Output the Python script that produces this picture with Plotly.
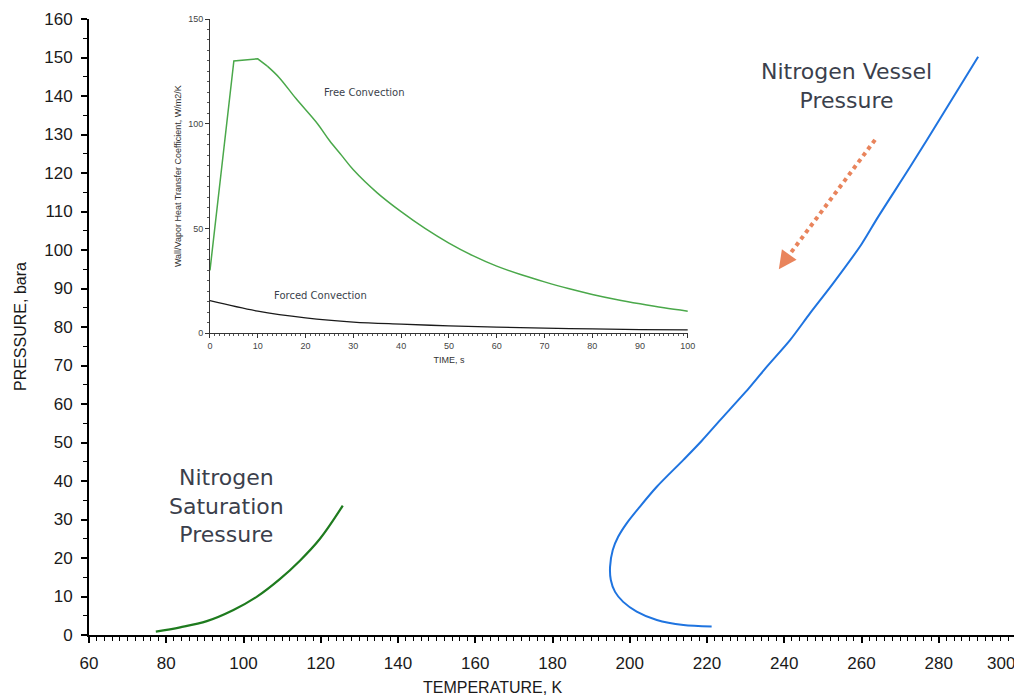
import plotly.graph_objects as go

# ---- main chart data ----
sat_T = [77.3, 83.6, 90.5, 97.4, 103.4, 109.4, 114.6, 119.8, 125.7]
sat_P = [0.9, 2.0, 3.6, 6.5, 9.9, 14.5, 19.3, 25.0, 33.6]

vessel_T = [290.2, 281.2, 272.6, 264.3, 260.0, 252.7, 246.7, 241.5,
            235.5, 231.2, 223.4, 218.6, 213.9, 207.0, 202.6, 199.2, 197.0, 195.6, 194.9,
            195.1, 196.2, 198.3, 201.8, 207.0, 213.9, 221.2]
vessel_P = [150.2, 135.5, 121.6, 108.6, 101.5, 91.4, 83.6, 76.6,
            69.7, 64.5, 55.8, 50.4, 45.5, 38.5, 33.3, 29.0, 25.5, 22.1, 17.7,
            14.3, 11.2, 8.6, 6.1, 3.9, 2.6, 2.2]

x_ticks = [60, 80, 100, 120, 140, 160, 180, 200, 220, 240, 260, 280, 300]
x_labels = ["60", "80", "100", "120", "140", "160", "180", "200", "220", "240", "260", "280", ""]
last_x_label = "300"
y_ticks = [0, 10, 20, 30, 40, 50, 60, 70, 80, 90, 100, 110, 120, 130, 140, 150, 160]

# ---- inset data ----
rise_t = [0, 5, 10, 12]
rise_h = [30, 130, 131, 127.5]
decay_t = [12, 14.5, 18, 22.5, 25, 27.5, 30, 35, 40, 45, 50, 55, 60, 65, 70, 75, 80, 85, 90, 95, 100]
decay_h = [127.5, 122, 112, 100, 92, 85, 78, 67, 58, 50, 43, 37, 32, 28, 24.5, 21.3, 18.5, 16.1, 14.0, 12.1, 10.5]
forced_t = [0, 10, 20, 30, 40, 50, 60, 70, 80, 90, 100]
forced_h = [15.5, 10.5, 7.3, 5.3, 4.3, 3.5, 2.9, 2.4, 2.0, 1.7, 1.6]
inset_x_ticks = [0, 10, 20, 30, 40, 50, 60, 70, 80, 90, 100]
inset_y_ticks = [0, 50, 100, 150]

fig = go.Figure()
fig.add_trace(go.Scatter(x=sat_T, y=sat_P, mode="lines", line=dict(color="#1e7b1e", width=2.2, shape="spline"),
                         showlegend=False, hoverinfo="skip"))
fig.add_trace(go.Scatter(x=vessel_T, y=vessel_P, mode="lines", line=dict(color="#1f74e0", width=2, shape="spline", smoothing=0.8),
                         showlegend=False, hoverinfo="skip"))
fig.add_trace(go.Scatter(x=rise_t, y=rise_h, mode="lines", line=dict(color="#4aa84a", width=1.5),
                         xaxis="x2", yaxis="y2", showlegend=False, hoverinfo="skip"))
fig.add_trace(go.Scatter(x=decay_t, y=decay_h, mode="lines", line=dict(color="#4aa84a", width=1.5, shape="spline"),
                         xaxis="x2", yaxis="y2", showlegend=False, hoverinfo="skip"))
fig.add_trace(go.Scatter(x=forced_t, y=forced_h, mode="lines", line=dict(color="#1a1a1a", width=1.3, shape="spline"),
                         xaxis="x2", yaxis="y2", showlegend=False, hoverinfo="skip"))

main_font = dict(family="Liberation Sans, Arial", size=17, color="#1a1a1a")
inset_font = dict(family="Liberation Sans, Arial", size=9, color="#444444")

# the page body adds an 8px offset, so margins compensate for it
fig.update_layout(
    width=1022, height=698,
    margin=dict(l=81, r=14, t=11, b=71),
    paper_bgcolor="white", plot_bgcolor="rgba(0,0,0,0)",
    xaxis=dict(range=[60, 300], tickvals=x_ticks, ticktext=x_labels, showline=True, linecolor="black", linewidth=2,
               ticks="outside", ticklen=6, tickwidth=1.5, tickcolor="black", automargin=False,
               ticklabelstandoff=6,
               minor=dict(dtick=2, ticks="outside", ticklen=4, tickcolor="black", tickwidth=1),
               showgrid=False, zeroline=False, tickfont=main_font, domain=[0, 1]),
    yaxis=dict(range=[0, 160], tickvals=y_ticks, showline=True, linecolor="black", linewidth=2,
               ticks="outside", ticklen=6, tickwidth=1.5, tickcolor="black", automargin=False,
               ticklabelstandoff=5,
               minor=dict(dtick=5, ticks="outside", ticklen=4, tickcolor="black", tickwidth=1),
               showgrid=False, zeroline=False, tickfont=main_font, domain=[0, 1]),
    xaxis2=dict(domain=[0.1305, 0.646], anchor="y2", range=[0, 100], tickvals=inset_x_ticks,
                showline=True, linecolor="#333333", linewidth=1, ticks="outside", ticklen=4,
                tickcolor="#333333", minor=dict(dtick=1, ticks="outside", ticklen=2, tickcolor="#555555"),
                showgrid=False, zeroline=False, tickfont=inset_font, automargin=False,
                title=dict(text="TIME, s", font=dict(family="Liberation Sans, Arial", size=9, color="#333333"),
                           standoff=6)),
    yaxis2=dict(domain=[0.49, 1.0], anchor="x2", range=[0, 150], tickvals=inset_y_ticks,
                showline=True, linecolor="#333333", linewidth=1, ticks="outside", ticklen=4,
                tickcolor="#333333", minor=dict(dtick=5, ticks="outside", ticklen=2, tickcolor="#555555"),
                showgrid=False, zeroline=False, tickfont=inset_font, automargin=False,
                title=dict(text="Wall/Vapor Heat Transfer Coefficient, W/m2/K",
                           font=dict(family="Liberation Sans, Arial", size=9, color="#333333"), standoff=4)),
)

# last x tick label, right-aligned so that it stays inside the page
fig.add_annotation(x=300, y=-0.0455, xref="x", yref="paper", text=last_x_label, showarrow=False,
                   xanchor="right", yanchor="middle", xshift=0, borderpad=0, font=main_font)

label_font = dict(family="DejaVu Sans", size=22, color="#3b3f4c")
fig.add_annotation(x=256, y=142.5, xref="x", yref="y", text="Nitrogen Vessel<br>Pressure",
                   showarrow=False, font=label_font, align="center", xanchor="center", yanchor="middle")
fig.add_annotation(x=95.5, y=33.5, xref="x", yref="y", text="Nitrogen<br>Saturation<br>Pressure",
                   showarrow=False, font=label_font, align="center", xanchor="center", yanchor="middle")

small_font = dict(family="DejaVu Sans", size=10, color="#3b3f4c")
fig.add_annotation(x=32.4, y=115, xref="x2", yref="y2", text="Free Convection", showarrow=False,
                   font=small_font, xanchor="center", yanchor="middle")
fig.add_annotation(x=23.1, y=18.2, xref="x2", yref="y2", text="Forced Convection", showarrow=False,
                   font=small_font, xanchor="center", yanchor="middle")

# axis titles
fig.add_annotation(x=-0.0744, y=0.5, xref="paper", yref="paper", text="PRESSURE, bara", textangle=-90,
                   showarrow=False, xanchor="center", yanchor="middle",
                   font=dict(family="Liberation Sans, Arial", size=16, color="#1a1a1a"))
fig.add_annotation(x=0.436, y=-0.086, xref="paper", yref="paper", text="TEMPERATURE, K",
                   showarrow=False, xanchor="center", yanchor="middle",
                   font=dict(family="Liberation Sans, Arial", size=16, color="#1a1a1a"))

# dotted orange arrow
arrow_color = "#e9845c"
fig.add_shape(type="line", x0=263.5, y0=128.6, x1=240.6, y1=97.8, xref="x", yref="y",
              line=dict(color=arrow_color, width=4, dash="dot"))
fig.add_annotation(x=238.6, y=95, ax=241.0, ay=98.4, xref="x", yref="y", axref="x", ayref="y",
                   text="", showarrow=True, arrowhead=2, arrowsize=1.2, arrowwidth=3, arrowcolor=arrow_color)

fig.write_html("out.html")
